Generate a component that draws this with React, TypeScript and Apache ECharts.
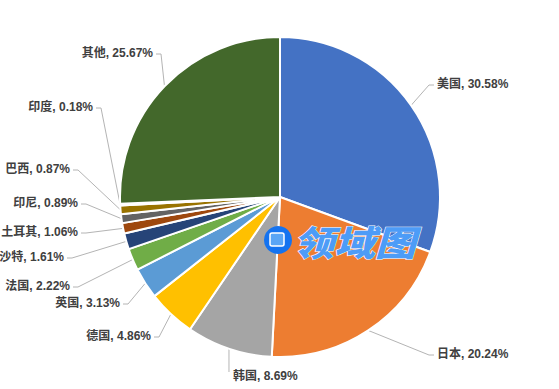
import React, { useEffect, useRef } from 'react';
import * as echarts from 'echarts';

const categories = ['美国', '日本', '韩国', '德国', '英国', '法国', '沙特', '土耳其', '印尼', '巴西', '印度', '其他'];
const shares = [30.58, 20.24, 8.69, 4.86, 3.13, 2.22, 1.61, 1.06, 0.89, 0.87, 0.18, 25.67];
const colors = ['#4472C4', '#ED7D31', '#A5A5A5', '#FFC000', '#5B9BD5', '#70AD47', '#264478', '#9E480E', '#636363', '#997300', '#255E91', '#43682B'];

// label anchor positions (layout only): [x, y, side]
const labelPos: [number, number, string][] = [
  [437, 84, 'L'],
  [437, 354, 'L'],
  [233, 376, 'V'],
  [151, 336, 'R'],
  [120, 303, 'R'],
  [70, 286, 'R'],
  [64, 257, 'R'],
  [78, 232, 'R'],
  [78, 203, 'R'],
  [70, 169, 'R'],
  [93, 107, 'R'],
  [153, 53, 'R'],
];

const CX = 280;
const CY = 197;
const R = 160;

export default function App() {
  const ref = useRef<HTMLDivElement>(null);
  useEffect(() => {
    if (!ref.current) return;
    const chart = echarts.init(ref.current, null, { renderer: 'svg' });
    const total = shares.reduce((a, b) => a + b, 0);
    const cum: number[] = [];
    let acc = 0;
    shares.forEach((v) => {
      cum.push(acc);
      acc += v;
    });
    const edge = (i: number) => {
      const a = ((cum[i] + shares[i] / 2) / total) * Math.PI * 2;
      return [CX + R * Math.sin(a), CY - R * Math.cos(a)];
    };
    chart.setOption({
      animation: false,
      backgroundColor: '#ffffff',
      series: [
        {
          type: 'pie',
          center: [CX, CY],
          radius: R,
          startAngle: 90,
          clockwise: true,
          data: categories.map((c, i) => ({ name: c, value: shares[i], itemStyle: { color: colors[i] } })),
          itemStyle: { borderColor: '#ffffff', borderWidth: 2 },
          label: {
            show: true,
            position: 'outside',
            overflow: 'none',
            formatter: (p: any) => `${p.name}, ${Number(p.value).toFixed(2)}%`,
            color: '#404040',
            fontSize: 12,
            fontWeight: 'bold',
            fontFamily: '"Liberation Sans", Arial, "Noto Sans CJK SC", sans-serif',
          },
          labelLine: {
            show: true,
            lineStyle: { color: '#b4b4b4', width: 1 },
          },
          labelLayout: (params: any) => {
            const i = params.dataIndex;
            const [lx, ly, side] = labelPos[i];
            const p0 = edge(i);
            let pts: number[][];
            if (side === 'L') {
              pts = [p0, [lx - 8, ly + 1], [lx - 3, ly + 1]];
            } else if (side === 'R') {
              pts = [p0, [lx + 8, ly + 1], [lx + 3, ly + 1]];
            } else {
              pts = [p0, [p0[0], ly - 4], [p0[0], ly - 4]];
            }
            return {
              x: lx,
              y: ly,
              align: side === 'R' ? 'right' : 'left',
              verticalAlign: 'middle',
              labelLinePoints: pts,
            };
          },
          emphasis: { disabled: true },
        },
      ],
      graphic: {
        elements: [
          { type: 'circle', z: 100, shape: { cx: 278, cy: 240, r: 14 }, style: { fill: '#1473f0' } },
          { type: 'rect', z: 101, shape: { x: 270, y: 233, width: 14, height: 13, r: 2 }, style: { fill: '#5aa5f5', stroke: '#ffffff', lineWidth: 1.5 } },
          {
            type: 'text',
            z: 100,
            x: 293,
            y: 241,
            scaleX: 1.17,
            style: {
              text: '领域图',
              fontSize: 35,
              fontWeight: 900,
              fontStyle: 'italic',
              fontFamily: '"Noto Sans CJK SC", sans-serif',
              fill: '#4d9cf7',
              stroke: '#ffffff',
              lineWidth: 1,
              verticalAlign: 'middle',
              align: 'left',
            },
          },
        ],
      },
    });
    return () => chart.dispose();
  }, []);
  return <div ref={ref} style={{ position: 'fixed', left: 0, top: 0, width: 559, height: 389 }} />;
}
